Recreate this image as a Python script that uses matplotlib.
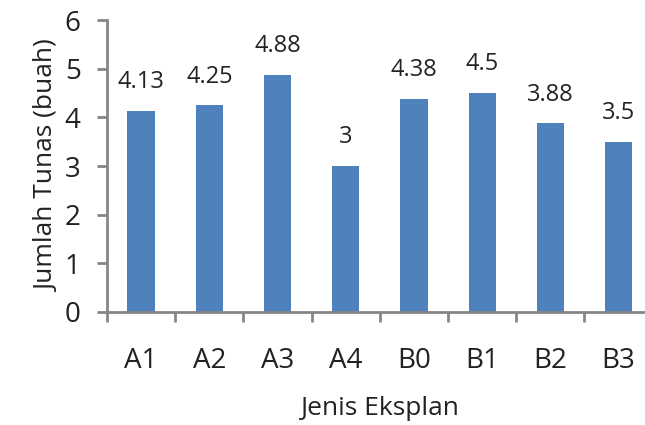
import numpy as np
import matplotlib.pyplot as plt

# Jumlah tunas per jenis eksplan
categories = ['A1', 'A2', 'A3', 'A4', 'B0', 'B1', 'B2', 'B3']
values = [4.13, 4.25, 4.88, 3, 4.38, 4.5, 3.88, 3.5]
labels = ['4.13', '4.25', '4.88', '3', '4.38', '4.5', '3.88', '3.5']

plt.rcParams['font.family'] = ['Open Sans', 'DejaVu Sans']

fig = plt.figure(figsize=(6.45, 4.25), dpi=100)
ax = fig.add_axes([0.1659, 0.2659, 0.846, 0.687])

x = np.arange(len(categories))
bars = ax.bar(x, values, width=0.4, color='#4F81BD')

for xi, v, lab in zip(x, values, labels):
    ax.annotate(lab, (xi, v), xytext=(0, 12), textcoords='offset points',
                ha='center', va='bottom', fontsize=17, color='#222222')

axis_col = '#868686'
ax.set_xlim(-0.5, len(categories) - 0.5)
ax.set_ylim(0, 6)
ax.set_yticks(range(0, 7))
ax.set_xticks(x)
ax.set_xticklabels(categories)
ax.set_xticks(np.arange(-0.5, len(categories)), minor=True)

for s in ['top', 'right']:
    ax.spines[s].set_visible(False)
for s in ['left', 'bottom']:
    ax.spines[s].set_color(axis_col)
    ax.spines[s].set_linewidth(2)

ax.tick_params(axis='y', length=7, width=2, color=axis_col, labelsize=20,
               labelcolor='#222222', pad=12)
ax.tick_params(axis='x', which='major', length=0, labelsize=20,
               labelcolor='#222222', pad=25)
ax.tick_params(axis='x', which='minor', length=7, width=2, color=axis_col)

ax.set_xlabel('Jenis Eksplan', fontsize=19, color='#222222', labelpad=15)
ax.set_ylabel('Jumlah Tunas (buah)', fontsize=19, color='#222222', labelpad=3)

fig.savefig('out.png', dpi=100)
